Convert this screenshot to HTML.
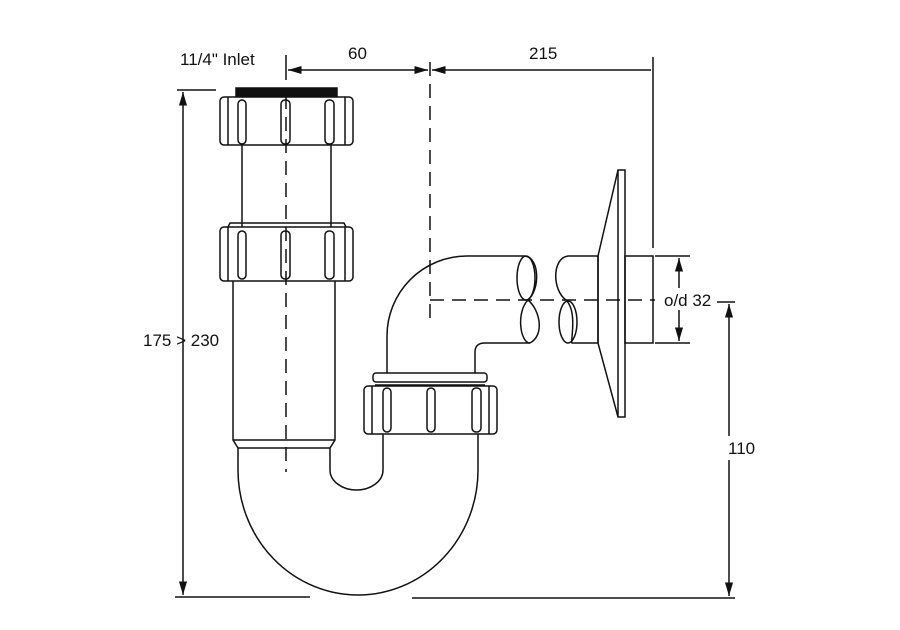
<!DOCTYPE html>
<html><head><style>body{margin:0;background:#fff}svg{display:block}text{font-family:"Liberation Sans",Arial,sans-serif;font-size:17px;fill:#111}</style></head><body>
<svg width="900" height="630" viewBox="0 0 900 630" xmlns="http://www.w3.org/2000/svg">
<defs><marker id="a" viewBox="0 0 10 10" refX="10" refY="5" markerWidth="9" markerHeight="9" orient="auto-start-reverse"><path d="M0,2 L10,5 L0,8 z" fill="#111"/></marker></defs>
<g fill="none" stroke="#111" stroke-width="1.5">
<!-- dimension lines -->
<line x1="286" y1="55" x2="286" y2="80"/>
<line x1="288" y1="70" x2="428" y2="70" marker-start="url(#a)" marker-end="url(#a)"/>
<line x1="432" y1="70" x2="651" y2="70" marker-start="url(#a)"/>
<line x1="653" y1="57" x2="653" y2="248"/>
<line x1="177" y1="90" x2="216" y2="90"/>
<line x1="183" y1="92" x2="183" y2="595" marker-start="url(#a)" marker-end="url(#a)"/>
<line x1="175" y1="597" x2="310" y2="597"/>
<line x1="412" y1="598" x2="735" y2="598"/>
<line x1="717" y1="302" x2="735" y2="302"/>
<line x1="729" y1="304" x2="729" y2="596" marker-start="url(#a)" marker-end="url(#a)"/>
<line x1="655" y1="256" x2="690" y2="256"/>
<line x1="655" y1="343" x2="690" y2="343"/>
<line x1="679" y1="258" x2="679" y2="341" marker-start="url(#a)" marker-end="url(#a)"/>
<!-- centerlines -->
<line x1="286" y1="95" x2="286" y2="472" stroke-dasharray="14,8"/>
<line x1="430" y1="62" x2="430" y2="322" stroke-dasharray="14,8"/>
<line x1="430" y1="300" x2="655" y2="300" stroke-dasharray="14,8"/>
<!-- inlet -->
<rect x="236" y="88" width="101" height="8" fill="#111"/>
<rect x="220" y="97" width="133" height="48" rx="4"/>
<line x1="228" y1="97" x2="228" y2="145"/><line x1="345" y1="97" x2="345" y2="145"/>
<rect x="238" y="100" width="8" height="44" rx="4"/><rect x="281" y="100" width="9" height="44" rx="4"/><rect x="325" y="100" width="9" height="44" rx="4"/>
<line x1="242" y1="145" x2="242" y2="227"/><line x1="331" y1="145" x2="331" y2="227"/>
<path d="M228,227 L230,223 L344,223 L346,227"/>
<rect x="220" y="227" width="133" height="54" rx="4"/>
<line x1="228" y1="227" x2="228" y2="281"/><line x1="345" y1="227" x2="345" y2="281"/>
<rect x="238" y="231" width="8" height="48" rx="4"/><rect x="281" y="231" width="9" height="48" rx="4"/><rect x="325" y="231" width="9" height="48" rx="4"/>
<path d="M233,281 L233,440 L238,448 L330,448 L335,440 L335,281"/>
<line x1="233" y1="440" x2="335" y2="440"/>
<!-- U bend -->
<path d="M238,448 L238,470 A120,125 0 0 0 478,470 L478,434"/>
<path d="M330,448 L330,470 A26.5,20 0 0 0 383,470 L383,434"/>
<!-- bottom nut -->
<rect x="373" y="373" width="114" height="9" rx="3"/>
<line x1="375" y1="385" x2="485" y2="385"/>
<rect x="364" y="386" width="133" height="48" rx="4"/>
<line x1="372" y1="386" x2="372" y2="434"/><line x1="489" y1="386" x2="489" y2="434"/>
<rect x="383" y="388" width="8" height="44" rx="4"/><rect x="427" y="388" width="8" height="44" rx="4"/><rect x="472" y="388" width="9" height="44" rx="4"/>
<!-- elbow -->
<path d="M387,373 L387,336 A80,80 0 0 1 467,256 L525,256"/>
<path d="M475,373 L475,352 Q475,343 485,343 L530,343"/>
<path d="M525,256 C540,258 540,290 528,300 C516,312 520,343 530,343"/>
<ellipse cx="526" cy="278" rx="9" ry="22"/>
<path d="M528,300 C540,310 545,335 530,343"/>
<!-- wall pipe -->
<path d="M598,256 L568,256 C552,258 552,290 566,300 C578,312 570,343 572,343 L598,343"/>
<ellipse cx="568" cy="322" rx="9" ry="21"/>
<path d="M598,256 L618,170 L625,170 L625,417 L618,417 L598,343 Z"/>
<line x1="618" y1="170" x2="618" y2="417"/>
<line x1="598" y1="256" x2="598" y2="343"/>
<rect x="625" y="256" width="28" height="87"/>
</g>
<rect x="722" y="436" width="50" height="24" fill="#fff"/>
<rect x="660" y="288" width="55" height="22" fill="#fff"/>
<text x="180" y="65">11/4" Inlet</text>
<text x="348" y="59">60</text>
<text x="529" y="59">215</text>
<text x="143" y="346">175 &gt; 230</text>
<text x="728" y="454">110</text>
<text x="664" y="306">o/d 32</text>
</svg>
</body></html>
